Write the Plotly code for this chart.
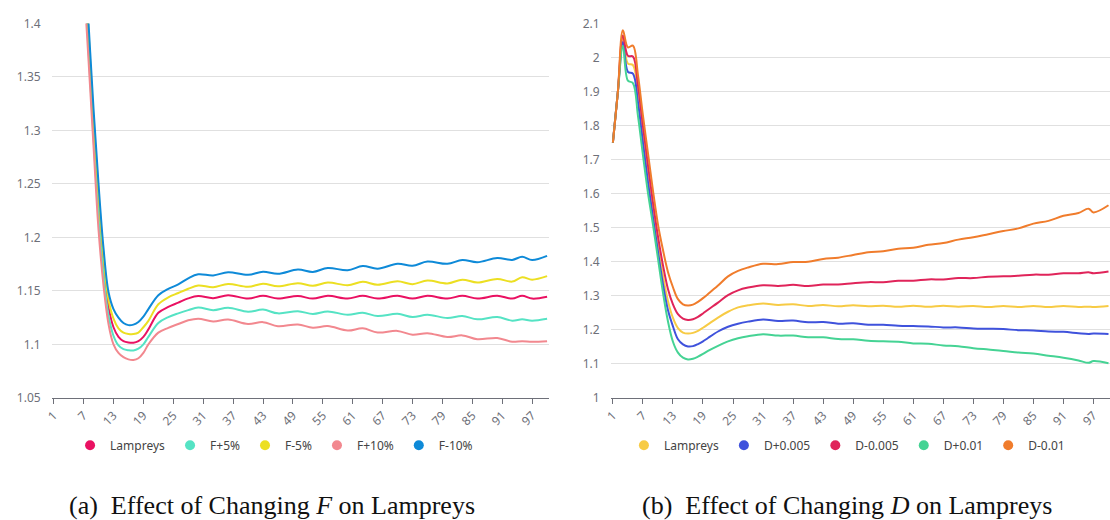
import plotly.graph_objects as go

# ---------------- data: (a) effect of changing F ----------------
X_LEFT = [1, 2, 3, 4, 5, 6, 7, 8, 9, 10, 11, 12, 13, 14, 15, 16, 17, 18, 19, 20,
          22, 24, 26, 28, 30, 33, 36, 40, 43, 46, 50, 53, 56, 60, 63, 66, 70, 73,
          76, 80, 83, 86, 90, 93, 95, 97, 100]

F_LAMPREYS = [1.75, 1.95, 2.03, 1.96, 1.82, 1.64, 1.47,
              1.385, 1.302, 1.232, 1.175, 1.135, 1.116, 1.107, 1.103, 1.1017, 1.1015, 1.103, 1.107, 1.114,
              1.1295, 1.135, 1.139, 1.143, 1.1452,
              1.1432, 1.146, 1.1428, 1.1455, 1.1428, 1.1452, 1.1428, 1.1455, 1.1428, 1.1455, 1.1428,
              1.1455, 1.1428, 1.1455, 1.1428, 1.1455, 1.1428, 1.1455, 1.1428, 1.1455, 1.1428, 1.1445]
F_PLUS5 = [1.745, 1.945, 2.02, 1.95, 1.81, 1.63, 1.46,
           1.375, 1.293, 1.22, 1.165, 1.127, 1.108, 1.099, 1.0955, 1.0945, 1.0943, 1.096, 1.1, 1.107,
           1.12, 1.1255, 1.129, 1.132, 1.1345,
           1.132, 1.1342, 1.1305, 1.1325, 1.129, 1.131, 1.1285, 1.1307, 1.1277, 1.1295, 1.1265,
           1.1286, 1.1256, 1.1277, 1.1247, 1.1265, 1.1234, 1.1256, 1.1222, 1.1234, 1.1222, 1.124]
F_MINUS5 = [1.755, 1.955, 2.04, 1.97, 1.83, 1.65, 1.475,
            1.392, 1.31, 1.242, 1.183, 1.142, 1.124, 1.115, 1.111, 1.1097, 1.1096, 1.111, 1.116, 1.122,
            1.1375, 1.144, 1.148, 1.152, 1.155,
            1.1535, 1.1565, 1.1538, 1.1568, 1.1543, 1.1572, 1.1548, 1.1578, 1.1553, 1.1585, 1.1558,
            1.159, 1.1563, 1.1597, 1.157, 1.1605, 1.1578, 1.1612, 1.1587, 1.1628, 1.1605, 1.1638]
F_PLUS10 = [1.74, 1.94, 2.01, 1.94, 1.80, 1.62, 1.45,
            1.365, 1.285, 1.207, 1.155, 1.119, 1.1, 1.092, 1.088, 1.086, 1.0855, 1.087, 1.092, 1.1,
            1.111, 1.1155, 1.119, 1.1225, 1.124,
            1.1215, 1.1232, 1.119, 1.1208, 1.117, 1.1186, 1.1156, 1.1171, 1.1129, 1.115, 1.1111,
            1.1126, 1.109, 1.1105, 1.1069, 1.1084, 1.1048, 1.106, 1.1024, 1.103, 1.1024, 1.103]
F_MINUS10 = [1.76, 1.96, 2.05, 1.98, 1.84, 1.66, 1.48,
             1.40, 1.32, 1.25, 1.19, 1.149, 1.133, 1.125, 1.12, 1.118, 1.1185, 1.121, 1.126, 1.133,
             1.146, 1.152, 1.156, 1.1618, 1.1655,
             1.1645, 1.1675, 1.165, 1.168, 1.166, 1.1699, 1.1677, 1.1714, 1.1693, 1.1732, 1.1708,
             1.1753, 1.1735, 1.1774, 1.1753, 1.1789, 1.1768, 1.1807, 1.179, 1.1819, 1.1789, 1.1828]

LEFT_NAMES = ["Lampreys", "F+5%", "F-5%", "F+10%", "F-10%"]
LEFT_COLORS = ["#ea1162", "#55e3c4", "#ecdf22", "#f2888f", "#0e8ad8"]
LEFT_SERIES = [F_LAMPREYS, F_PLUS5, F_MINUS5, F_PLUS10, F_MINUS10]
LEFT_YTICKS = [1.05, 1.1, 1.15, 1.2, 1.25, 1.3, 1.35, 1.4]
LEFT_YTEXT = ["1.05", "1.1", "1.15", "1.2", "1.25", "1.3", "1.35", "1.4"]

# ---------------- data: (b) effect of changing D ----------------
X_RIGHT = [1, 2, 3, 4, 5, 6, 7, 8, 9, 10, 11, 12, 13, 14, 15, 16, 17, 18, 19, 20,
           22, 24, 26, 28, 31, 34, 37, 40, 43, 46, 49, 52, 55, 58, 61, 64, 67, 70,
           73, 76, 79, 82, 85, 88, 91, 94, 96, 97, 100]

D_LAMPREYS = [1.75, 1.90, 2.058, 1.982, 1.978, 1.90, 1.775, 1.66, 1.55, 1.45, 1.36, 1.285, 1.235,
              1.205, 1.192, 1.189, 1.191, 1.197, 1.206, 1.216,
              1.236, 1.253, 1.266, 1.272,
              1.277, 1.273, 1.275, 1.27, 1.273, 1.269, 1.272, 1.269, 1.271, 1.268, 1.271, 1.268,
              1.271, 1.268, 1.27, 1.267, 1.27, 1.267, 1.27, 1.267, 1.27, 1.267,
              1.268, 1.267, 1.27]
D_PLUS005 = [1.75, 1.90, 2.046, 1.958, 1.953, 1.87, 1.75, 1.635, 1.53, 1.43, 1.335, 1.258, 1.21,
             1.172, 1.157, 1.151, 1.152, 1.158, 1.166, 1.176,
             1.195, 1.209, 1.218, 1.224,
             1.23, 1.226, 1.227, 1.222, 1.223, 1.218, 1.219, 1.215, 1.215, 1.212, 1.211, 1.21,
             1.207, 1.207, 1.204, 1.203, 1.202, 1.199, 1.198, 1.195, 1.194, 1.19,
             1.188, 1.189, 1.188]
D_MINUS005 = [1.75, 1.90, 2.065, 2.005, 2.003, 1.92, 1.80, 1.685, 1.575, 1.475, 1.39, 1.32, 1.275,
              1.246, 1.233, 1.229, 1.231, 1.238, 1.248, 1.259,
              1.28, 1.302, 1.316, 1.324,
              1.331, 1.329, 1.332, 1.329, 1.333, 1.333, 1.337, 1.34, 1.34, 1.344, 1.344, 1.348,
              1.348, 1.352, 1.352, 1.356, 1.357, 1.359, 1.362, 1.362, 1.366, 1.366,
              1.369, 1.366, 1.371]
D_PLUS01 = [1.75, 1.90, 2.035, 1.932, 1.925, 1.83, 1.714, 1.603, 1.51, 1.41, 1.31, 1.225, 1.165,
            1.133, 1.118, 1.113, 1.115, 1.121, 1.129, 1.138,
            1.153, 1.166, 1.175, 1.181,
            1.187, 1.183, 1.183, 1.178, 1.178, 1.173, 1.172, 1.168, 1.166, 1.165, 1.16, 1.159,
            1.154, 1.152, 1.146, 1.142, 1.138, 1.133, 1.13, 1.124, 1.118, 1.11,
            1.103, 1.108, 1.102]
D_MINUS01 = [1.75, 1.90, 2.08, 2.03, 2.035, 1.95, 1.83, 1.72, 1.61, 1.51, 1.435, 1.37, 1.325,
             1.29, 1.275, 1.2715, 1.274, 1.282, 1.293, 1.305,
             1.33, 1.357, 1.373, 1.383,
             1.394, 1.393, 1.399, 1.40, 1.408, 1.412, 1.42, 1.428, 1.431, 1.438, 1.441, 1.45,
             1.455, 1.465, 1.472, 1.481, 1.49, 1.498, 1.512, 1.52, 1.535, 1.543,
             1.556, 1.545, 1.566]

RIGHT_NAMES = ["Lampreys", "D+0.005", "D-0.005", "D+0.01", "D-0.01"]
RIGHT_COLORS = ["#f7cb45", "#3f52dc", "#e0245a", "#45d394", "#f07c2c"]
RIGHT_SERIES = [D_LAMPREYS, D_PLUS005, D_MINUS005, D_PLUS01, D_MINUS01]
RIGHT_YTICKS = [1, 1.1, 1.2, 1.3, 1.4, 1.5, 1.6, 1.7, 1.8, 1.9, 2, 2.1]
RIGHT_YTEXT = ["1", "1.1", "1.2", "1.3", "1.4", "1.5", "1.6", "1.7", "1.8", "1.9", "2", "2.1"]

X_TICKS = list(range(1, 101, 6))

CAPTION_A = "(a)  Effect of Changing <i>F</i> on Lampreys"
CAPTION_B = "(b)  Effect of Changing <i>D</i> on Lampreys"

W, H = 1110, 520
AXIS_GRAY = "#6e7079"
GRID = "#e0e0e0"

fig = go.Figure()

def add_panel(xs, series, names, colors, xa, ya, legend):
    for ys, n, c in zip(series, names, colors):
        fig.add_trace(go.Scatter(x=xs, y=ys, mode="lines", name=n,
                                 line=dict(color=c, width=2, shape="spline", smoothing=1.0),
                                 xaxis=xa, yaxis=ya, showlegend=False, hoverinfo="x+y"))
    for n, c in zip(names, colors):
        fig.add_trace(go.Scatter(x=[None], y=[None], mode="markers", name=n,
                                 marker=dict(color=c, size=10, symbol="circle"),
                                 xaxis=xa, yaxis=ya, legend=legend, showlegend=True))

add_panel(X_LEFT, LEFT_SERIES, LEFT_NAMES, LEFT_COLORS, "x", "y", "legend")
add_panel(X_RIGHT, RIGHT_SERIES, RIGHT_NAMES, RIGHT_COLORS, "x2", "y2", "legend2")

ydom = [1 - 402 / H, 1 - 15 / H]
xcommon = dict(showgrid=False, zeroline=False, showline=True, linecolor=AXIS_GRAY, linewidth=1,
               ticks="outside", ticklen=5, tickcolor=AXIS_GRAY, tickvals=X_TICKS, tickangle=-45,
               tickfont=dict(size=12, color=AXIS_GRAY), fixedrange=True)
ycommon = dict(showgrid=True, gridcolor=GRID, gridwidth=1, zeroline=False, showline=False,
               ticks="", tickfont=dict(size=12, color=AXIS_GRAY), ticklabelstandoff=10, fixedrange=True)

CAP_FONT = dict(family="Liberation Serif, Times New Roman, serif", size=26, color="#111")

fig.update_layout(
    width=W, height=H,
    margin=dict(l=0, r=0, t=0, b=0),
    paper_bgcolor="white", plot_bgcolor="white",
    font=dict(family="Noto Sans, Open Sans, sans-serif", size=12, color=AXIS_GRAY),
    xaxis=dict(domain=[44 / W, 545 / W], range=[0.6, 100.4], anchor="y", **xcommon),
    yaxis=dict(domain=ydom, range=[1.05, 1.4], tickvals=LEFT_YTICKS, ticktext=LEFT_YTEXT,
               anchor="x", **ycommon),
    xaxis2=dict(domain=[607 / W, 1.0], range=[0.55, 100.3], anchor="y2", **xcommon),
    yaxis2=dict(domain=ydom, range=[1.0, 2.1], tickvals=RIGHT_YTICKS, ticktext=RIGHT_YTEXT,
                anchor="x2", **ycommon),
    legend=dict(orientation="h", x=268 / W, xanchor="center", y=1 - 451 / H, yanchor="middle",
                font=dict(size=12, color="#444"), itemwidth=30, bgcolor="rgba(0,0,0,0)"),
    legend2=dict(orientation="h", x=845 / W, xanchor="center", y=1 - 451 / H, yanchor="middle",
                 font=dict(size=12, color="#444"), itemwidth=30, bgcolor="rgba(0,0,0,0)"),
    annotations=[
        dict(text=CAPTION_A, x=266 / W, y=1 - 513 / H, xref="paper", yref="paper",
             xanchor="center", yanchor="middle", showarrow=False, font=CAP_FONT),
        dict(text=CAPTION_B, x=845 / W, y=1 - 513 / H, xref="paper", yref="paper",
             xanchor="center", yanchor="middle", showarrow=False, font=CAP_FONT),
    ],
)

fig.write_html("out.html")
